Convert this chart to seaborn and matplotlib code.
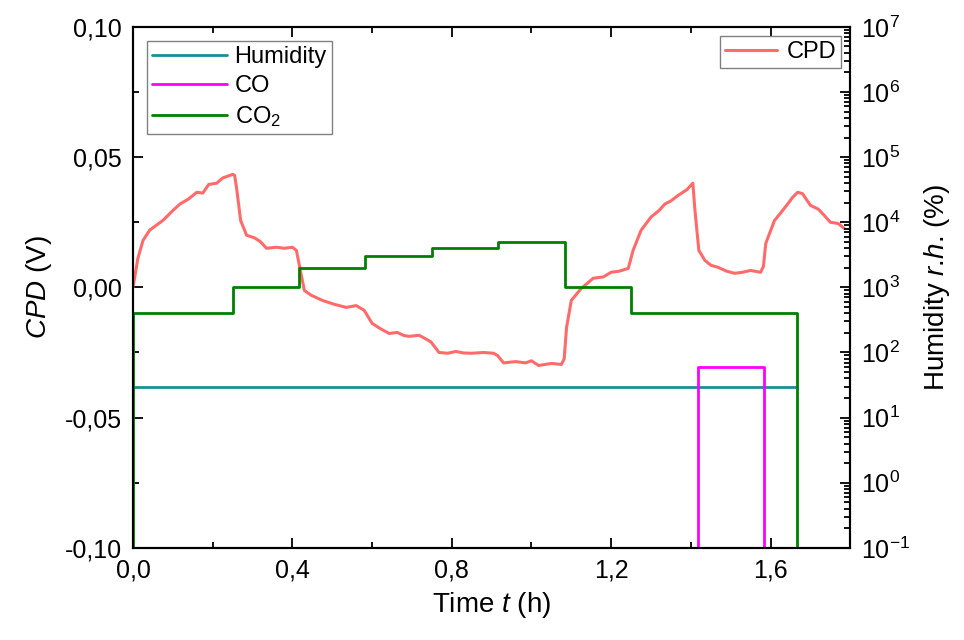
import numpy as np
import seaborn as sns
import matplotlib.pyplot as plt
from matplotlib.ticker import FuncFormatter, MultipleLocator, LogLocator, NullFormatter


# CPD signal (left axis)
cpd_t = [0.0, 0.012, 0.025, 0.042, 0.075, 0.1, 0.118, 0.14, 0.16, 0.175, 0.19, 0.21,
         0.225, 0.24, 0.25, 0.255, 0.26, 0.27, 0.285, 0.305, 0.32, 0.335, 0.36, 0.38,
         0.40, 0.41, 0.42, 0.43, 0.447, 0.475, 0.505, 0.535, 0.56, 0.58,
         0.60, 0.62, 0.643, 0.663, 0.68, 0.693, 0.718, 0.735, 0.748, 0.768, 0.79, 0.81,
         0.83, 0.85, 0.88, 0.905, 0.915, 0.93, 0.96, 0.985, 1.0, 1.018, 1.05, 1.075,
         1.082, 1.088, 1.10, 1.125, 1.155, 1.18, 1.20, 1.22, 1.243, 1.255, 1.275, 1.30,
         1.32, 1.335, 1.35, 1.368, 1.39, 1.405, 1.41, 1.42, 1.435, 1.45, 1.468, 1.49,
         1.51, 1.53, 1.55, 1.575, 1.582, 1.588, 1.61, 1.625, 1.643, 1.655, 1.668, 1.68,
         1.70, 1.72, 1.735, 1.75, 1.77, 1.785]
cpd_v = [0.0, 0.011, 0.018, 0.022, 0.0257, 0.0295, 0.032, 0.034, 0.0365, 0.0362, 0.0395, 0.040,
         0.042, 0.0428, 0.0434, 0.043, 0.038, 0.0257, 0.020, 0.019, 0.0175, 0.015, 0.0154, 0.015,
         0.0154, 0.0142, 0.0065, -0.0012, -0.003, -0.005, -0.0065, -0.0077, -0.007, -0.0088,
         -0.0138, -0.0158, -0.0177, -0.0173, -0.0185, -0.0188, -0.0184, -0.0198, -0.021, -0.025, -0.0253, -0.0246,
         -0.0252, -0.0253, -0.025, -0.0253, -0.0262, -0.029, -0.0285, -0.029, -0.0282, -0.030, -0.0292, -0.0296,
         -0.0275, -0.0154, -0.005, -0.0004, 0.0035, 0.004, 0.0058, 0.0062, 0.0073, 0.0142, 0.0219, 0.027,
         0.0295, 0.032, 0.0332, 0.0353, 0.0375, 0.040, 0.030, 0.0142, 0.0104, 0.0085, 0.0077, 0.0062,
         0.0054, 0.0058, 0.0065, 0.0058, 0.008, 0.0169, 0.0257, 0.0285, 0.032, 0.0345, 0.0365, 0.036,
         0.0315, 0.030, 0.0276, 0.025, 0.0245, 0.0226]

# gas / humidity set points (right axis, log)
hum_t = [0.0, 1.667]
hum_v = [30, 30]
co_t = [0.0, 1.417, 1.583, 1.8]
co_v = [0, 60, 0, 0]
co2_t = [0.0, 0.0, 0.25, 0.417, 0.583, 0.75, 0.917, 1.083, 1.25, 1.667]
co2_v = [0, 400, 1000, 2000, 3000, 4000, 5000, 1000, 400, 0]

x_ticks = [0.0, 0.4, 0.8, 1.2, 1.6]
y_ticks = [-0.10, -0.05, 0.00, 0.05, 0.10]

sns.set_style("ticks")
plt.rcParams['font.family'] = ['Liberation Sans', 'DejaVu Sans']
plt.rcParams['mathtext.fontset'] = 'custom'
plt.rcParams['mathtext.rm'] = 'Liberation Sans'
plt.rcParams['mathtext.it'] = 'Liberation Sans:italic'
plt.rcParams['axes.linewidth'] = 1.5
for k in ['text.color', 'axes.labelcolor', 'xtick.color', 'ytick.color', 'axes.edgecolor']:
    plt.rcParams[k] = 'black'


def comma(v, pos):
    return ('%.2f' % v).replace('.', ',')


def comma1(v, pos):
    return ('%.1f' % v).replace('.', ',')


# zero on a log axis -> push it below the visible range
def floor(v):
    v = np.asarray(v, dtype=float)
    return np.where(v > 0, v, 1e-3)


fig = plt.figure(figsize=(9.64, 6.4), dpi=100)
ax = fig.add_axes([0.138, 0.144, 0.744, 0.814])
ax2 = ax.twinx()

sns.lineplot(x=cpd_t, y=cpd_v, ax=ax, color='#ff5a5a', lw=2.2, alpha=0.9,
             estimator=None, sort=False, label='CPD')

sns.lineplot(x=hum_t, y=hum_v, ax=ax2, color='#1a9090', lw=2,
             estimator=None, sort=False, label='Humidity')
sns.lineplot(x=co_t, y=floor(co_v), ax=ax2, color='#ff00ff', lw=2,
             drawstyle='steps-post', estimator=None, sort=False, label='CO')
sns.lineplot(x=co2_t, y=floor(co2_v), ax=ax2, color='#008000', lw=2,
             drawstyle='steps-post', estimator=None, sort=False, label='CO$_2$')

ax.set_xlim(0, 1.8)
ax.set_ylim(-0.10, 0.10)
ax.set_xticks(x_ticks)
ax.set_yticks(y_ticks)
ax.xaxis.set_minor_locator(MultipleLocator(0.2))
ax.yaxis.set_minor_locator(MultipleLocator(0.025))
ax.xaxis.set_major_formatter(FuncFormatter(comma1))
ax.yaxis.set_major_formatter(FuncFormatter(comma))
ax.tick_params(which='both', direction='in', top=True, labelsize=18, width=1.3, pad=8)
ax.tick_params(which='major', length=7)
ax.tick_params(which='minor', length=4)
ax.set_xlabel('Time $t$ (h)', fontsize=20, labelpad=5)
ax.set_ylabel('$CPD$ (V)', fontsize=20, labelpad=8)

ax2.set_yscale('log')
ax2.set_ylim(1e-1, 1e7)
ax2.yaxis.set_major_locator(LogLocator(base=10, numticks=12))
ax2.yaxis.set_minor_locator(LogLocator(base=10, subs=np.arange(2, 10), numticks=12))
ax2.yaxis.set_minor_formatter(NullFormatter())
ax2.tick_params(which='both', direction='in', labelsize=18, width=1.3, pad=8)
ax2.tick_params(which='major', length=7)
ax2.tick_params(which='minor', length=4)
ax2.set_ylabel('Humidity $r$.$h$. (%)', fontsize=20, labelpad=8)

leg1 = ax.legend(loc='upper right', fontsize=17, fancybox=False, edgecolor='gray',
                 handlelength=2.2, handletextpad=0.4, borderaxespad=0.4, borderpad=0.2,
                 framealpha=1)
leg1.get_frame().set_linewidth(1)
leg2 = ax2.legend(loc='upper left', fontsize=17, fancybox=False, edgecolor='gray',
                  handlelength=3.2, handletextpad=0.3, labelspacing=0.3,
                  borderaxespad=0.6, borderpad=0.2, framealpha=1)
leg2.get_frame().set_linewidth(1)

plt.savefig('out.png', dpi=100)
